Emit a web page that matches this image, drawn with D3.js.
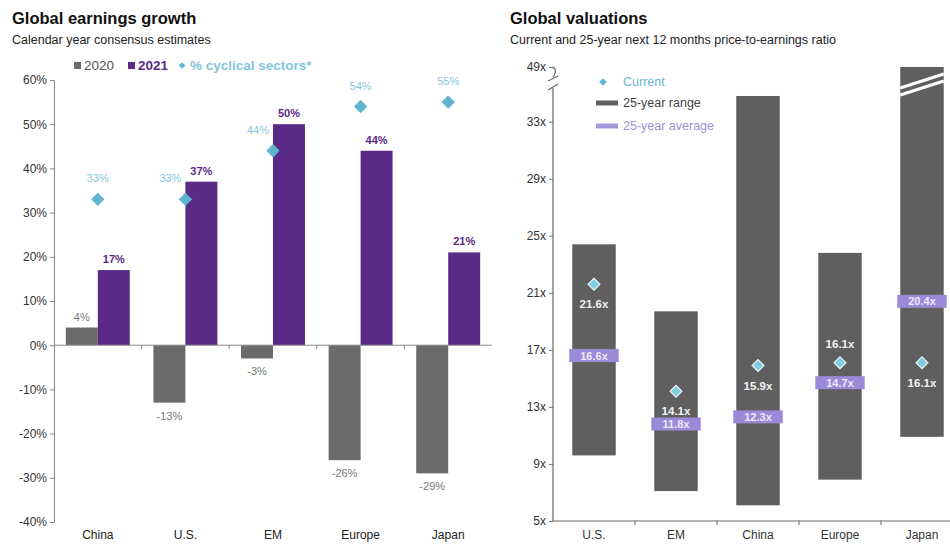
<!DOCTYPE html>
<html>
<head>
<meta charset="utf-8">
<script src="https://cdn.jsdelivr.net/npm/d3@7"></script>
<style>
  body { margin: 0; background: #fff; }
  svg { font-family: "Liberation Sans", Arial, sans-serif; }
</style>
</head>
<body>
<script>
'use strict';

// left panel data
const regions = ['China', 'U.S.', 'EM', 'Europe', 'Japan'];
const growth2020 = [4, -13, -3, -26, -29];
const growth2021 = [17, 37, 50, 44, 21];
const cyclical = [33, 33, 44, 54, 55];
const growthTicks = [-40, -30, -20, -10, 0, 10, 20, 30, 40, 50, 60];

// right panel data
const peRegions = ['U.S.', 'EM', 'China', 'Europe', 'Japan'];
const peLow = [9.6, 7.1, 6.1, 7.9, 10.9];
const peHigh = [24.4, 19.7, 34.8, 23.8, 49];
const peAvg = [16.6, 11.8, 12.3, 14.7, 20.4];
const peCurrent = [21.6, 14.1, 15.9, 16.1, 16.1];
const peTicks = [5, 9, 13, 17, 21, 25, 29, 33, 49];

const grey2020 = '#6b6b6b';
const purple = '#5b2a86';
const cyan = '#5fb4cf';
const cyanText = '#86c6dc';
const rangeGrey = '#5f5f5f';
const avgPurple = '#9b8ad8';

const svg = d3.select('body').append('svg')
    .attr('width', 950)
    .attr('height', 547);

const diamond = d3.symbol().type(d3.symbolSquare);

// ---------- titles ----------
function drawTitle(x, title, sub) {
  svg.append('text').attr('x', x).attr('y', 24)
      .attr('font-size', 16.5).attr('font-weight', 'bold').attr('fill', '#111')
      .text(title);
  svg.append('text').attr('x', x).attr('y', 44)
      .attr('font-size', 12.5).attr('fill', '#222')
      .text(sub);
}
drawTitle(12, 'Global earnings growth', 'Calendar year consensus estimates');
drawTitle(510, 'Global valuations', 'Current and 25-year next 12 months price-to-earnings ratio');

// ---------- left: earnings growth ----------
const x0 = d3.scaleBand().domain(regions).range([54, 492]);
const x1 = d3.scaleBand().domain(['2020', '2021'])
    .range([0, x0.bandwidth()]).paddingOuter(0.37);
const y = d3.scaleLinear().domain([-40, 60]).range([522, 80]);

const left = svg.append('g');

left.append('g')
    .attr('transform', 'translate(54,0)')
    .call(d3.axisLeft(y).tickValues(growthTicks).tickFormat(d => d + '%')
      .tickSize(4).tickSizeOuter(0))
    .call(g => g.select('.domain').attr('stroke', '#888'))
    .call(g => g.selectAll('.tick line').attr('stroke', '#888'))
    .call(g => g.selectAll('.tick text').attr('font-size', 12).attr('fill', '#333')
      .attr('font-family', '"Liberation Sans", Arial, sans-serif'));

const rows = regions.map((r, i) => ({
  r, g20: growth2020[i], g21: growth2021[i], cyc: cyclical[i],
}));

left.selectAll('rect.b20').data(rows).join('rect')
    .attr('x', d => x0(d.r) + x1('2020'))
    .attr('width', x1.bandwidth())
    .attr('y', d => y(Math.max(0, d.g20)))
    .attr('height', d => Math.abs(y(d.g20) - y(0)))
    .attr('fill', grey2020);

left.selectAll('rect.b21').data(rows).join('rect')
    .attr('x', d => x0(d.r) + x1('2021'))
    .attr('width', x1.bandwidth())
    .attr('y', d => y(Math.max(0, d.g21)))
    .attr('height', d => Math.abs(y(d.g21) - y(0)))
    .attr('fill', purple);

// zero line + category separators
left.append('line')
    .attr('x1', 54).attr('x2', 492).attr('y1', y(0)).attr('y2', y(0))
    .attr('stroke', '#888');
left.selectAll('line.sep').data(regions.slice(1)).join('line')
    .attr('x1', d => x0(d)).attr('x2', d => x0(d))
    .attr('y1', y(0)).attr('y2', y(0) + 4)
    .attr('stroke', '#888');

left.append('g')
    .attr('transform', 'translate(0,527)')
    .call(d3.axisBottom(x0).tickSize(0))
    .call(g => g.select('.domain').remove())
    .call(g => g.selectAll('text').attr('font-size', 12).attr('fill', '#222')
      .attr('font-family', '"Liberation Sans", Arial, sans-serif'));

// value labels
left.selectAll('text.l21').data(rows).join('text')
    .attr('x', d => x0(d.r) + x1('2021') + x1.bandwidth() / 2)
    .attr('y', d => y(d.g21) - 7)
    .attr('text-anchor', 'middle').attr('font-size', 11).attr('font-weight', 'bold')
    .attr('fill', purple)
    .text(d => d.g21 + '%');

left.selectAll('text.l20').data(rows).join('text')
    .attr('x', d => x0(d.r) + x1('2020') + x1.bandwidth() / 2)
    .attr('y', d => d.g20 >= 0 ? y(d.g20) - 7 : y(d.g20) + 17)
    .attr('text-anchor', 'middle').attr('font-size', 11)
    .attr('fill', '#777')
    .text(d => d.g20 + '%');

// cyclical diamonds
left.selectAll('path.cyc').data(rows).join('path')
    .attr('d', diamond.size(90))
    .attr('transform', d => `translate(${x0(d.r) + x0.bandwidth() / 2},${y(d.cyc)}) rotate(45)`)
    .attr('fill', cyan);

left.selectAll('text.lcyc').data(rows).join('text')
    .attr('x', d => x0(d.r) + x0.bandwidth() / 2 - (d.g21 > d.cyc ? 15 : 0))
    .attr('y', d => y(d.cyc) - 17)
    .attr('text-anchor', 'middle').attr('font-size', 11)
    .attr('fill', cyanText)
    .text(d => d.cyc + '%');

// legend
const lg = left.append('g').attr('font-size', 13.5);
lg.append('rect').attr('x', 74).attr('y', 62).attr('width', 7).attr('height', 7).attr('fill', grey2020);
lg.append('text').attr('x', 84).attr('y', 70).attr('fill', '#555').text('2020');
lg.append('rect').attr('x', 128).attr('y', 62).attr('width', 7).attr('height', 7).attr('fill', purple);
lg.append('text').attr('x', 138).attr('y', 70).attr('fill', purple).attr('font-weight', 'bold').text('2021');
lg.append('path').attr('d', diamond.size(22))
    .attr('transform', 'translate(182,65.5) rotate(45)').attr('fill', cyan);
lg.append('text').attr('x', 190).attr('y', 70).attr('fill', cyanText).attr('font-weight', 'bold')
    .text('% cyclical sectors*');

// ---------- right: valuations ----------
const xR = d3.scaleBand().domain(peRegions).range([553, 963])
    .paddingInner(0.47).paddingOuter(0.235);
const yR = d3.scaleLinear().domain([5, 35.5, 49]).range([521, 86, 67]);
const bw = xR.bandwidth();

const right = svg.append('g');

right.append('g')
    .attr('transform', 'translate(553,0)')
    .call(d3.axisLeft(yR).tickValues(peTicks).tickFormat(d => d + 'x')
      .tickSize(4).tickSizeOuter(0))
    .call(g => g.select('.domain').remove())
    .call(g => g.selectAll('.tick line').attr('stroke', '#777'))
    .call(g => g.selectAll('.tick text').attr('font-size', 12).attr('fill', '#333')
      .attr('font-family', '"Liberation Sans", Arial, sans-serif'));

// broken axis line
const axisPath = right.append('g').attr('stroke', '#666').attr('fill', 'none').attr('stroke-width', 1.2);
axisPath.append('line').attr('x1', 553).attr('x2', 553).attr('y1', 521).attr('y2', yR(35.5) + 2);
axisPath.append('path').attr('d', `M553,${yR(49)} C557,${yR(49) + 3} 555,${yR(49) + 8} 553,${yR(49) + 10}`);
axisPath.append('line').attr('x1', 548).attr('x2', 558).attr('y1', yR(49) + 14).attr('y2', yR(49) + 9);
axisPath.append('line').attr('x1', 548).attr('x2', 558).attr('y1', yR(49) + 23).attr('y2', yR(49) + 17);

const pe = peRegions.map((r, i) => ({
  r, lo: peLow[i], hi: peHigh[i], avg: peAvg[i], cur: peCurrent[i],
}));

right.selectAll('rect.rng').data(pe).join('rect')
    .attr('x', d => xR(d.r))
    .attr('width', bw)
    .attr('y', d => yR(d.hi))
    .attr('height', d => yR(d.lo) - yR(d.hi))
    .attr('fill', rangeGrey);

// break marks through bars that run past the axis break
const brk = pe.filter(d => d.hi > 35.5);
[2, 9].forEach(off => {
  right.selectAll(null).data(brk).join('line')
      .attr('x1', d => xR(d.r)).attr('x2', d => xR(d.r) + bw)
      .attr('y1', yR(35.5) + off).attr('y2', yR(35.5) + off - 14)
      .attr('stroke', '#fff').attr('stroke-width', 3);
});

// x axis
right.append('line')
    .attr('x1', 553).attr('x2', 950).attr('y1', 521).attr('y2', 521)
    .attr('stroke', '#666').attr('stroke-width', 1.2);
right.selectAll('line.sep').data(peRegions.slice(1)).join('line')
    .attr('x1', d => xR(d) - xR.step() * xR.paddingInner() / 2)
    .attr('x2', d => xR(d) - xR.step() * xR.paddingInner() / 2)
    .attr('y1', 521).attr('y2', 525)
    .attr('stroke', '#666');

right.append('g')
    .attr('transform', 'translate(0,527)')
    .call(d3.axisBottom(xR).tickSize(0))
    .call(g => g.select('.domain').remove())
    .call(g => g.selectAll('text').attr('font-size', 12).attr('fill', '#333')
      .attr('font-family', '"Liberation Sans", Arial, sans-serif'));

// 25-year averages
right.selectAll('rect.avg').data(pe).join('rect')
    .attr('x', d => xR(d.r) - 3)
    .attr('width', bw + 6)
    .attr('y', d => yR(d.avg) - 6.5)
    .attr('height', 13)
    .attr('fill', avgPurple);
right.selectAll('text.avg').data(pe).join('text')
    .attr('x', d => xR(d.r) + bw / 2)
    .attr('y', d => yR(d.avg) + 4)
    .attr('text-anchor', 'middle').attr('font-size', 11).attr('font-weight', 'bold')
    .attr('fill', '#ece8fb')
    .text(d => d.avg.toFixed(1) + 'x');

// current
right.selectAll('path.cur').data(pe).join('path')
    .attr('d', diamond.size(70))
    .attr('transform', d => `translate(${xR(d.r) + bw / 2},${yR(d.cur)}) rotate(45)`)
    .attr('fill', '#7fcbe0').attr('stroke', '#e8f6fa').attr('stroke-width', 1.2);

right.selectAll('text.cur').data(pe).join('text')
    .attr('x', d => xR(d.r) + bw / 2)
    .attr('y', d => {
      const gap = yR(d.avg) - yR(d.cur);
      return (gap > 0 && gap < 30) ? yR(d.cur) - 15 : yR(d.cur) + 24;
    })
    .attr('text-anchor', 'middle').attr('font-size', 11.5).attr('font-weight', 'bold')
    .attr('fill', '#f2f2f2')
    .text(d => d.cur.toFixed(1) + 'x');

// legend
const rl = right.append('g').attr('font-size', 12.5);
rl.append('path').attr('d', diamond.size(30))
    .attr('transform', 'translate(603,82) rotate(45)').attr('fill', cyan);
rl.append('text').attr('x', 623).attr('y', 86).attr('fill', '#6ab7d4').text('Current');
rl.append('line').attr('x1', 596).attr('x2', 618).attr('y1', 103).attr('y2', 103)
    .attr('stroke', rangeGrey).attr('stroke-width', 5);
rl.append('text').attr('x', 623).attr('y', 107).attr('fill', '#444').text('25-year range');
rl.append('line').attr('x1', 596).attr('x2', 618).attr('y1', 126).attr('y2', 126)
    .attr('stroke', '#a596de').attr('stroke-width', 5);
rl.append('text').attr('x', 623).attr('y', 130).attr('fill', '#9d8fd9').text('25-year average');
</script>
</body>
</html>
